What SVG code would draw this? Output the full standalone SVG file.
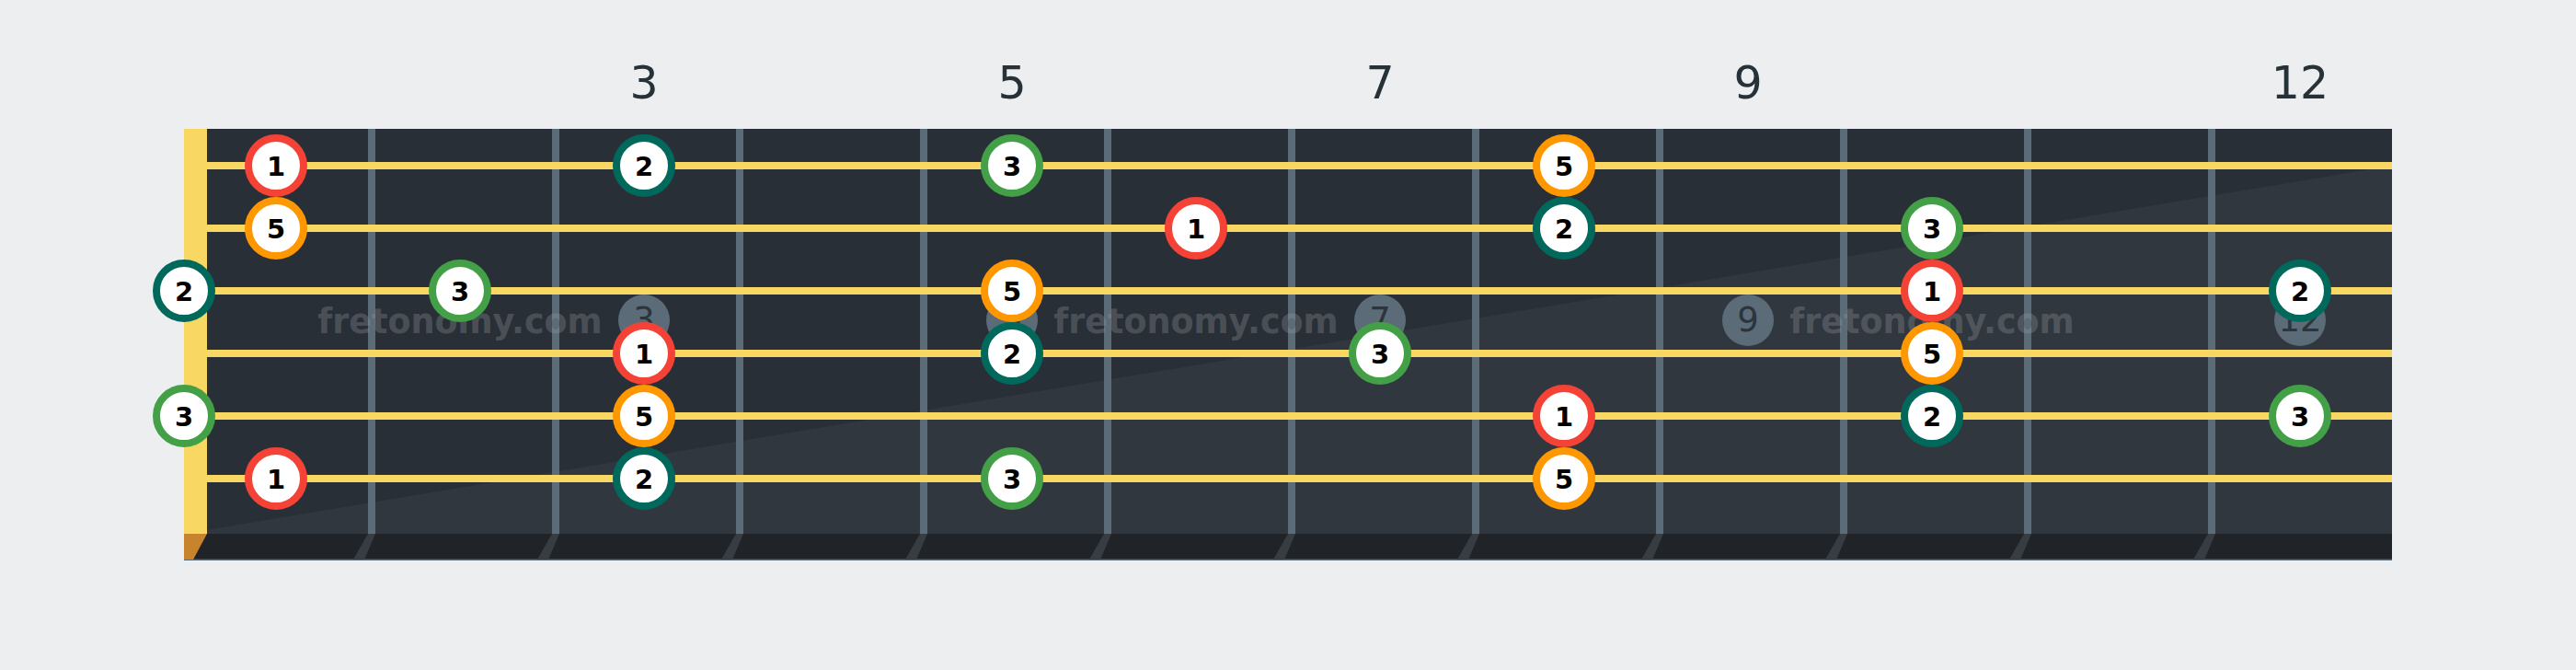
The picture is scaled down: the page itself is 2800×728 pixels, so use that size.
<svg xmlns="http://www.w3.org/2000/svg" width="2800" height="728" viewBox="0 0 2800 728">
<style>
.fn{font-family:"DejaVu Sans",sans-serif;font-size:49px;fill:#263238;text-anchor:middle}
.fret{fill:#5b6b78}
.shadow{fill:#383d43}
.str{stroke:#f8d862;stroke-width:8}
.inlay circle{fill:#5b6b78}
.inlay text{font-family:"DejaVu Sans",sans-serif;font-size:37px;fill:#2c343c;text-anchor:middle}
.wm{font-family:"DejaVu Sans",sans-serif;font-weight:bold;font-size:36.5px;fill:#a0a4a8;fill-opacity:0.3;text-anchor:middle}
.note circle{fill:#fff;stroke-width:8}
.note text{font-family:"DejaVu Sans",sans-serif;font-weight:bold;font-size:29px;fill:#000;text-anchor:middle}
.r circle{stroke:#f44336}
.o circle{stroke:#ff9800}
.g circle{stroke:#43a047}
.t circle{stroke:#00695c}
</style>
<rect x="0" y="0" width="2800" height="728" fill="#eceef0"/>
<g id="fret-numbers">
<text class="fn" x="700" y="107">3</text>
<text class="fn" x="1100" y="107">5</text>
<text class="fn" x="1500" y="107">7</text>
<text class="fn" x="1900" y="107">9</text>
<text class="fn" x="2500" y="107">12</text>
</g>
<g id="fretboard">
<rect x="200" y="140" width="2400" height="440" fill="#292f37"/>
<polygon points="200,580 2600,180 2600,580" fill="#31373f"/>
<rect x="200" y="580" width="2400" height="28" fill="#202428"/>
<rect x="200" y="607.5" width="2400" height="1.5" fill="#5b6b78"/>
</g>
<g id="fret-shadows">
<polygon class="shadow" points="400,580 408,580 396,608 384,608"/>
<polygon class="shadow" points="600,580 608,580 596,608 584,608"/>
<polygon class="shadow" points="800,580 808,580 796,608 784,608"/>
<polygon class="shadow" points="1000,580 1008,580 996,608 984,608"/>
<polygon class="shadow" points="1200,580 1208,580 1196,608 1184,608"/>
<polygon class="shadow" points="1400,580 1408,580 1396,608 1384,608"/>
<polygon class="shadow" points="1600,580 1608,580 1596,608 1584,608"/>
<polygon class="shadow" points="1800,580 1808,580 1796,608 1784,608"/>
<polygon class="shadow" points="2000,580 2008,580 1996,608 1984,608"/>
<polygon class="shadow" points="2200,580 2208,580 2196,608 2184,608"/>
<polygon class="shadow" points="2400,580 2408,580 2396,608 2384,608"/>
</g>
<g id="frets">
<rect class="fret" x="400" y="140" width="8" height="440"/>
<rect class="fret" x="600" y="140" width="8" height="440"/>
<rect class="fret" x="800" y="140" width="8" height="440"/>
<rect class="fret" x="1000" y="140" width="8" height="440"/>
<rect class="fret" x="1200" y="140" width="8" height="440"/>
<rect class="fret" x="1400" y="140" width="8" height="440"/>
<rect class="fret" x="1600" y="140" width="8" height="440"/>
<rect class="fret" x="1800" y="140" width="8" height="440"/>
<rect class="fret" x="2000" y="140" width="8" height="440"/>
<rect class="fret" x="2200" y="140" width="8" height="440"/>
<rect class="fret" x="2400" y="140" width="8" height="440"/>
</g>
<g id="nut">
<rect x="200" y="140" width="25" height="440" fill="#f8d862"/>
<polygon points="200,580 225,580 210,608 200,608" fill="#c8842c"/>
</g>
<g id="strings">
<line class="str" x1="225" y1="180" x2="2600" y2="180"/>
<line class="str" x1="225" y1="248" x2="2600" y2="248"/>
<line class="str" x1="225" y1="316" x2="2600" y2="316"/>
<line class="str" x1="225" y1="384" x2="2600" y2="384"/>
<line class="str" x1="225" y1="452" x2="2600" y2="452"/>
<line class="str" x1="225" y1="520" x2="2600" y2="520"/>
</g>
<g id="inlays">
<g class="inlay" id="inlay-3"><circle cx="700" cy="348" r="28"/><text x="700" y="360">3</text></g>
<g class="inlay" id="inlay-5"><circle cx="1100" cy="348" r="28"/><text x="1100" y="360">5</text></g>
<g class="inlay" id="inlay-7"><circle cx="1500" cy="348" r="28"/><text x="1500" y="360">7</text></g>
<g class="inlay" id="inlay-9"><circle cx="1900" cy="348" r="28"/><text x="1900" y="360">9</text></g>
<g class="inlay" id="inlay-12"><circle cx="2500" cy="348" r="28"/><text x="2500" y="360">12</text></g>
</g>
<g id="watermarks">
<text class="wm" x="500" y="362">fretonomy.com</text>
<text class="wm" x="1300" y="362">fretonomy.com</text>
<text class="wm" x="2100" y="362">fretonomy.com</text>
</g>
<g id="notes">
<g id="n1-1" class="note r"><circle cx="300" cy="180" r="30"/><text x="300" y="190.5">1</text></g>
<g id="n1-3" class="note t"><circle cx="700" cy="180" r="30"/><text x="700" y="190.5">2</text></g>
<g id="n1-5" class="note g"><circle cx="1100" cy="180" r="30"/><text x="1100" y="190.5">3</text></g>
<g id="n1-8" class="note o"><circle cx="1700" cy="180" r="30"/><text x="1700" y="190.5">5</text></g>
<g id="n2-1" class="note o"><circle cx="300" cy="248" r="30"/><text x="300" y="258.5">5</text></g>
<g id="n2-6" class="note r"><circle cx="1300" cy="248" r="30"/><text x="1300" y="258.5">1</text></g>
<g id="n2-8" class="note t"><circle cx="1700" cy="248" r="30"/><text x="1700" y="258.5">2</text></g>
<g id="n2-10" class="note g"><circle cx="2100" cy="248" r="30"/><text x="2100" y="258.5">3</text></g>
<g id="n3-0" class="note t"><circle cx="200" cy="316" r="30"/><text x="200" y="326.5">2</text></g>
<g id="n3-2" class="note g"><circle cx="500" cy="316" r="30"/><text x="500" y="326.5">3</text></g>
<g id="n3-5" class="note o"><circle cx="1100" cy="316" r="30"/><text x="1100" y="326.5">5</text></g>
<g id="n3-10" class="note r"><circle cx="2100" cy="316" r="30"/><text x="2100" y="326.5">1</text></g>
<g id="n3-12" class="note t"><circle cx="2500" cy="316" r="30"/><text x="2500" y="326.5">2</text></g>
<g id="n4-3" class="note r"><circle cx="700" cy="384" r="30"/><text x="700" y="394.5">1</text></g>
<g id="n4-5" class="note t"><circle cx="1100" cy="384" r="30"/><text x="1100" y="394.5">2</text></g>
<g id="n4-7" class="note g"><circle cx="1500" cy="384" r="30"/><text x="1500" y="394.5">3</text></g>
<g id="n4-10" class="note o"><circle cx="2100" cy="384" r="30"/><text x="2100" y="394.5">5</text></g>
<g id="n5-0" class="note g"><circle cx="200" cy="452" r="30"/><text x="200" y="462.5">3</text></g>
<g id="n5-3" class="note o"><circle cx="700" cy="452" r="30"/><text x="700" y="462.5">5</text></g>
<g id="n5-8" class="note r"><circle cx="1700" cy="452" r="30"/><text x="1700" y="462.5">1</text></g>
<g id="n5-10" class="note t"><circle cx="2100" cy="452" r="30"/><text x="2100" y="462.5">2</text></g>
<g id="n5-12" class="note g"><circle cx="2500" cy="452" r="30"/><text x="2500" y="462.5">3</text></g>
<g id="n6-1" class="note r"><circle cx="300" cy="520" r="30"/><text x="300" y="530.5">1</text></g>
<g id="n6-3" class="note t"><circle cx="700" cy="520" r="30"/><text x="700" y="530.5">2</text></g>
<g id="n6-5" class="note g"><circle cx="1100" cy="520" r="30"/><text x="1100" y="530.5">3</text></g>
<g id="n6-8" class="note o"><circle cx="1700" cy="520" r="30"/><text x="1700" y="530.5">5</text></g>
</g>
</svg>
